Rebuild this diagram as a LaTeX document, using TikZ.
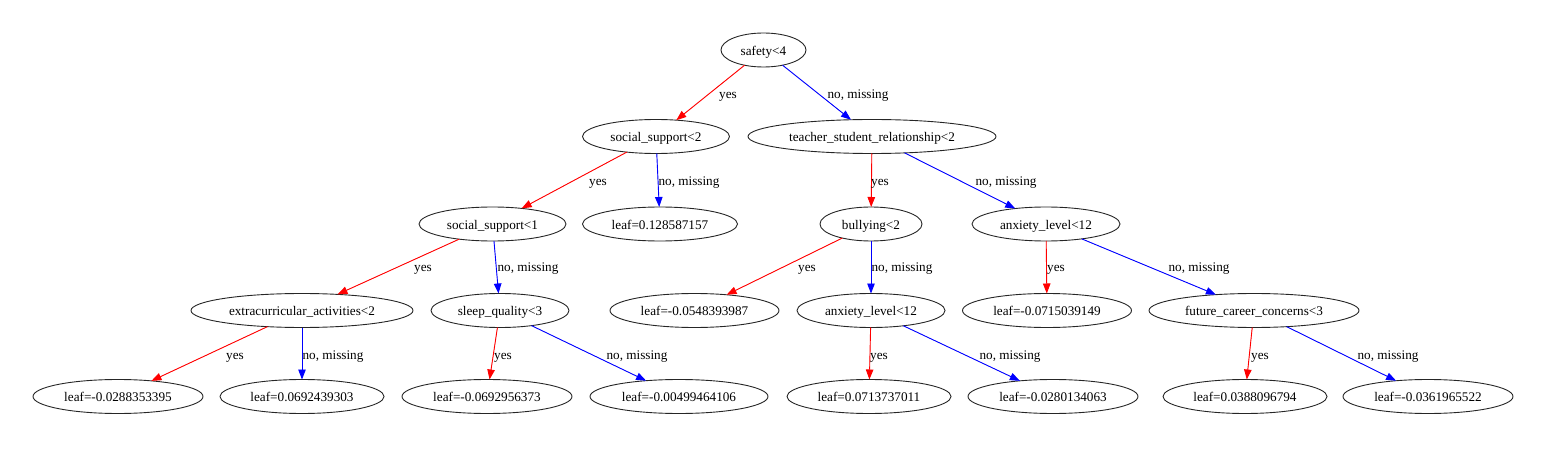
\documentclass[tikz,border=0pt]{standalone}
\usepackage{fontspec}
\setmainfont{Liberation Serif}
\usetikzlibrary{shapes.geometric,arrows.meta}
\begin{document}
\begin{tikzpicture}[x=1pt,y=-1pt,
  tnode/.style={draw=black!85,ellipse,line width=0.9pt,inner sep=0pt,outer sep=0pt,minimum height=34pt,text height=10.5pt,text depth=0pt,font=\fontsize{13.2}{15}\selectfont},
  lbl/.style={font=\fontsize{13.2}{15}\selectfont,inner sep=0pt,text height=8pt,text depth=0pt},
  yesedge/.style={draw=red,line width=0.9pt,-{Triangle[length=10pt,width=7.5pt]},fill=red},
  noedge/.style={draw=blue,line width=0.9pt,-{Triangle[length=10pt,width=7.5pt]},fill=blue}]
\useasboundingbox (0,0) rectangle (1548,449);
% level 0
\node[tnode,minimum width=85pt] (s) at (763.5,50) {safety<4};
% level 1
\node[tnode,minimum width=147pt] (ss2) at (656,136.5) {social\_support<2};
\node[tnode,minimum width=248pt] (tsr) at (872,136.5) {teacher\_student\_relationship<2};
% level 2
\node[tnode,minimum width=147pt] (ss1) at (492.5,224) {social\_support<1};
\node[tnode,minimum width=155pt] (la) at (660,224) {leaf=0.128587157};
\node[tnode,minimum width=102pt] (bul) at (871,224) {bullying<2};
\node[tnode,minimum width=148pt] (anx1) at (1046,224) {anxiety\_level<12};
% level 3
\node[tnode,minimum width=222pt] (ext) at (302,310.5) {extracurricular\_activities<2};
\node[tnode,minimum width=138pt] (slp) at (500,310.5) {sleep\_quality<3};
\node[tnode,minimum width=169pt] (lb) at (694.5,310.5) {leaf=-0.0548393987};
\node[tnode,minimum width=148pt] (anx2) at (871,310.5) {anxiety\_level<12};
\node[tnode,minimum width=169pt] (lc) at (1047,310.5) {leaf=-0.0715039149};
\node[tnode,minimum width=210pt] (fut) at (1254,310.5) {future\_career\_concerns<3};
% level 4
\node[tnode,minimum width=170pt] (l1) at (118,396.5) {leaf=-0.0288353395};
\node[tnode,minimum width=164pt] (l2) at (302,396.5) {leaf=0.0692439303};
\node[tnode,minimum width=170pt] (l3) at (487,396.5) {leaf=-0.0692956373};
\node[tnode,minimum width=178pt] (l4) at (679,396.5) {leaf=-0.00499464106};
\node[tnode,minimum width=164pt] (l5) at (869,396.5) {leaf=0.0713737011};
\node[tnode,minimum width=170pt] (l6) at (1053,396.5) {leaf=-0.0280134063};
\node[tnode,minimum width=164pt] (l7) at (1245,396.5) {leaf=0.0388096794};
\node[tnode,minimum width=170pt] (l8) at (1428,396.5) {leaf=-0.0361965522};
% edges
\draw[yesedge] (s) -- (ss2);
\draw[noedge] (s) -- (tsr);
\draw[yesedge] (ss2) -- (ss1);
\draw[noedge] (ss2) -- (la);
\draw[yesedge] (tsr) -- (bul);
\draw[noedge] (tsr) -- (anx1);
\draw[yesedge] (ss1) -- (ext);
\draw[noedge] (ss1) -- (slp);
\draw[yesedge] (bul) -- (lb);
\draw[noedge] (bul) -- (anx2);
\draw[yesedge] (anx1) -- (lc);
\draw[noedge] (anx1) -- (fut);
\draw[yesedge] (ext) -- (l1);
\draw[noedge] (ext) -- (l2);
\draw[yesedge] (slp) -- (l3);
\draw[noedge] (slp) -- (l4);
\draw[yesedge] (anx2) -- (l5);
\draw[noedge] (anx2) -- (l6);
\draw[yesedge] (fut) -- (l7);
\draw[noedge] (fut) -- (l8);
% edge labels
\node[lbl] (e1) at (728,95) {yes};
\node[lbl] (e2) at (858,95) {no, missing};
\node[lbl] (e3) at (598,182) {yes};
\node[lbl] (e4) at (689,182) {no, missing};
\node[lbl] (e5) at (880,182) {yes};
\node[lbl] (e6) at (1006,182) {no, missing};
\node[lbl] (e7) at (423,268) {yes};
\node[lbl] (e8) at (528,268) {no, missing};
\node[lbl] (e9) at (807,268) {yes};
\node[lbl] (e10) at (902,268) {no, missing};
\node[lbl] (e11) at (1056,268) {yes};
\node[lbl] (e12) at (1199,268) {no, missing};
\node[lbl] (e13) at (235,355) {yes};
\node[lbl] (e14) at (333,355) {no, missing};
\node[lbl] (e15) at (503,355) {yes};
\node[lbl] (e16) at (637,355) {no, missing};
\node[lbl] (e17) at (879,355) {yes};
\node[lbl] (e18) at (1010,355) {no, missing};
\node[lbl] (e19) at (1260,355) {yes};
\node[lbl] (e20) at (1388,355) {no, missing};
\end{tikzpicture}
\end{document}
